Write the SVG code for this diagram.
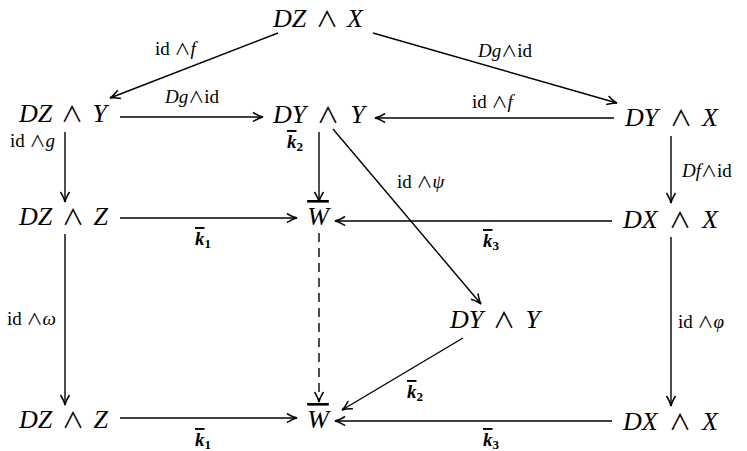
<svg xmlns="http://www.w3.org/2000/svg" width="747" height="451" viewBox="0 0 747 451">
<defs>
<marker id="ah" viewBox="-11 -6 12 12" refX="0" refY="0" markerWidth="12" markerHeight="12" markerUnits="userSpaceOnUse" orient="auto">
<path d="M-10,-4.5 Q-4,-0.8 0,0 Q-4,0.8 -10,4.5" fill="none" stroke="#000" stroke-width="1.5"/>
</marker>
</defs>
<style>
text{font-family:'Liberation Serif','Times New Roman',Tinos,'DejaVu Serif',serif;fill:#000}
.n{font-size:26px;font-style:italic}
.n .u{font-style:normal;font-family:'Noto Sans CJK JP','DejaVu Serif',sans-serif;font-size:22px}
.l{font-size:19px}
.l .i{font-style:italic}
.l .u{font-family:'Noto Sans CJK JP','DejaVu Serif',sans-serif;font-size:16px}
.k{font-size:19px;font-weight:bold;font-style:italic}
.k .s{font-size:13px;font-style:normal}
.ov{text-decoration:overline}
.c{stroke:#000;stroke-width:1.4;fill:none;marker-end:url(#ah)}
.d{stroke-dasharray:9 6}
</style>
<rect width="747" height="451" fill="#fff"/>
<g id="connectors">
<line class="c" x1="278" y1="33" x2="110" y2="98"/>
<line class="c" x1="373" y1="33" x2="617" y2="103"/>
<line class="c" x1="120" y1="117" x2="263" y2="117"/>
<line class="c" x1="614" y1="118" x2="375" y2="118"/>
<line class="c" x1="65" y1="132" x2="65" y2="202"/>
<line class="c" x1="319" y1="132" x2="319" y2="202"/>
<line class="c" x1="333" y1="129" x2="481" y2="304"/>
<line class="c" x1="671" y1="136" x2="671" y2="203"/>
<line class="c" x1="120" y1="218" x2="297" y2="218"/>
<line class="c" x1="612" y1="221" x2="335" y2="221"/>
<line class="c" x1="65" y1="234" x2="65" y2="405"/>
<line class="c d" x1="319" y1="233" x2="319" y2="402"/>
<line class="c" x1="671" y1="237" x2="671" y2="406"/>
<line class="c" x1="463" y1="338" x2="342" y2="410"/>
<line class="c" x1="120" y1="418" x2="297" y2="418"/>
<line class="c" x1="612" y1="421" x2="335" y2="421"/>
</g>
<g id="labels">
<text class="l" x="155" y="55">id <tspan class="u">∧</tspan><tspan class="i">f</tspan></text>
<text class="l" x="478" y="57"><tspan class="i">Dg</tspan><tspan class="u">∧</tspan>id</text>
<text class="l" x="165" y="103"><tspan class="i">Dg</tspan><tspan class="u">∧</tspan>id</text>
<text class="l" x="472" y="108">id <tspan class="u">∧</tspan><tspan class="i">f</tspan></text>
<text class="l" x="10" y="147">id <tspan class="u">∧</tspan><tspan class="i">g</tspan></text>
<text class="k" x="287" y="148"><tspan class="ov">k</tspan><tspan class="s" dy="3">2</tspan></text>
<text class="l" x="397" y="188">id <tspan class="u">∧</tspan><tspan class="i">ψ</tspan></text>
<text class="l" x="682" y="177"><tspan class="i">Df</tspan><tspan class="u">∧</tspan>id</text>
<text class="k" x="195" y="245"><tspan class="ov">k</tspan><tspan class="s" dy="3">1</tspan></text>
<text class="k" x="483" y="247"><tspan class="ov">k</tspan><tspan class="s" dy="3">3</tspan></text>
<text class="l" x="7" y="325">id <tspan class="u">∧</tspan><tspan class="i">ω</tspan></text>
<text class="l" x="678" y="328">id <tspan class="u">∧</tspan><tspan class="i">φ</tspan></text>
<text class="k" x="407" y="398"><tspan class="ov">k</tspan><tspan class="s" dy="3">2</tspan></text>
<text class="k" x="195" y="446"><tspan class="ov">k</tspan><tspan class="s" dy="3">1</tspan></text>
<text class="k" x="483" y="446"><tspan class="ov">k</tspan><tspan class="s" dy="3">3</tspan></text>
</g>
<g id="DZX"><text class="n" y="27"><tspan x="273">DZ</tspan><tspan class="u" x="327" text-anchor="middle">∧</tspan><tspan x="363" text-anchor="end">X</tspan></text></g>
<g id="DZY1"><text class="n" y="122"><tspan x="19">DZ</tspan><tspan class="u" x="72" text-anchor="middle">∧</tspan><tspan x="107" text-anchor="end">Y</tspan></text></g>
<g id="DYY1"><text class="n" y="123"><tspan x="273">DY</tspan><tspan class="u" x="328" text-anchor="middle">∧</tspan><tspan x="365" text-anchor="end">Y</tspan></text></g>
<g id="DYX"><text class="n" y="126"><tspan x="625">DY</tspan><tspan class="u" x="681" text-anchor="middle">∧</tspan><tspan x="718" text-anchor="end">X</tspan></text></g>
<g id="DZZ1"><text class="n" y="225"><tspan x="19">DZ</tspan><tspan class="u" x="73" text-anchor="middle">∧</tspan><tspan x="108" text-anchor="end">Z</tspan></text></g>
<g id="W1"><text class="n ov" x="318" y="225" text-anchor="middle">W</text></g>
<g id="DXX1"><text class="n" y="228"><tspan x="623">DX</tspan><tspan class="u" x="680" text-anchor="middle">∧</tspan><tspan x="718" text-anchor="end">X</tspan></text></g>
<g id="DYY2"><text class="n" y="328"><tspan x="450">DY</tspan><tspan class="u" x="504" text-anchor="middle">∧</tspan><tspan x="540" text-anchor="end">Y</tspan></text></g>
<g id="DZZ2"><text class="n" y="428"><tspan x="19">DZ</tspan><tspan class="u" x="73" text-anchor="middle">∧</tspan><tspan x="108" text-anchor="end">Z</tspan></text></g>
<g id="W2"><text class="n ov" x="318" y="428" text-anchor="middle">W</text></g>
<g id="DXX2"><text class="n" y="430"><tspan x="623">DX</tspan><tspan class="u" x="680" text-anchor="middle">∧</tspan><tspan x="718" text-anchor="end">X</tspan></text></g>
</svg>
